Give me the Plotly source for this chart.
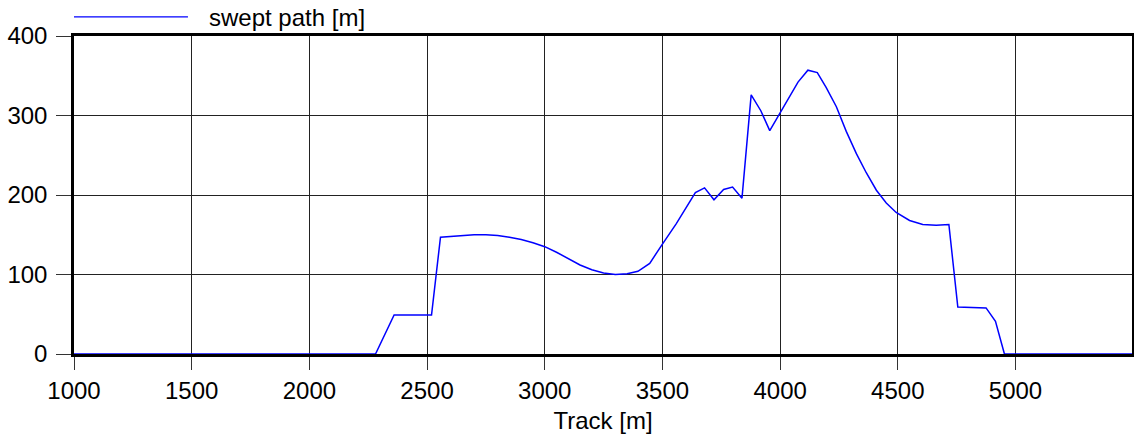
import plotly.graph_objects as go

track_m = [1000, 2281, 2360, 2519, 2557, 2600, 2650, 2700, 2750, 2800, 2850, 2900,
           2950, 3000, 3050, 3100, 3150, 3200, 3250, 3300, 3350, 3396, 3446, 3495,
           3559, 3640, 3679, 3719, 3760, 3798, 3838, 3877, 3918, 3956, 3998, 4040,
           4076, 4118, 4158, 4196, 4239, 4281, 4324, 4366, 4409, 4451, 4493, 4550,
           4606, 4663, 4717, 4755, 4875, 4915, 4953, 5500]
swept_path = [0, 0, 49, 49, 147, 148, 149, 150, 150, 149, 147, 144,
              140, 135, 128, 120, 112, 106, 102, 100, 101, 104, 114, 136,
              164, 203, 209, 194, 207, 210, 196, 326, 306, 281, 303, 324,
              342, 357, 354, 335, 311, 280, 252, 228, 206, 190, 178, 168,
              163, 162, 163, 59, 58, 41, 0, 0]
series_name = "swept path [m]"
x_title = "Track [m]"
x_ticks = [1000, 1500, 2000, 2500, 3000, 3500, 4000, 4500, 5000]
y_ticks = [0, 100, 200, 300, 400]

FONT = "Liberation Sans, Arial, sans-serif"
FS = 24

fig = go.Figure()
fig.add_trace(go.Scatter(x=track_m, y=swept_path, mode="lines", name=series_name,
                         line=dict(color="#0000ff", width=1.5), showlegend=False))

# manual legend (long sample line like the reference)
fig.add_shape(type="line", xref="paper", yref="paper", x0=0.0, x1=0.1077,
              y0=1.06, y1=1.06, line=dict(color="#0000ff", width=1.2))
fig.add_annotation(xref="paper", yref="paper", x=0.1257, y=1.057, text=series_name,
                   showarrow=False, xanchor="left", yanchor="middle",
                   font=dict(family=FONT, size=FS, color="black"))

axis_common = dict(showgrid=True, gridcolor="#222222", gridwidth=1,
                   showline=True, linecolor="black", linewidth=2.5, mirror=True,
                   ticks="outside", tickcolor="#333333", tickwidth=1,
                   zeroline=False,
                   tickfont=dict(family=FONT, size=FS, color="black"))

fig.update_xaxes(range=[1000, 5495], tickvals=x_ticks, ticklen=13, automargin=True,
                 title=dict(text=x_title, standoff=10,
                            font=dict(family=FONT, size=FS, color="black")),
                 **axis_common)
fig.update_yaxes(range=[0, 400], tickvals=y_ticks, ticklen=15, automargin=False,
                 ticklabelstandoff=4, **axis_common)

fig.update_layout(width=1134, height=440,
                  margin=dict(l=74, r=2, t=36, b=86),
                  plot_bgcolor="white", paper_bgcolor="white",
                  font=dict(family=FONT, size=FS, color="black"))

# remove the page's default 8px body margin so the figure fills the window
fig.write_html("out.html", config={"displayModeBar": False},
               post_script="document.body.style.margin='0';document.body.style.overflow='hidden';")
